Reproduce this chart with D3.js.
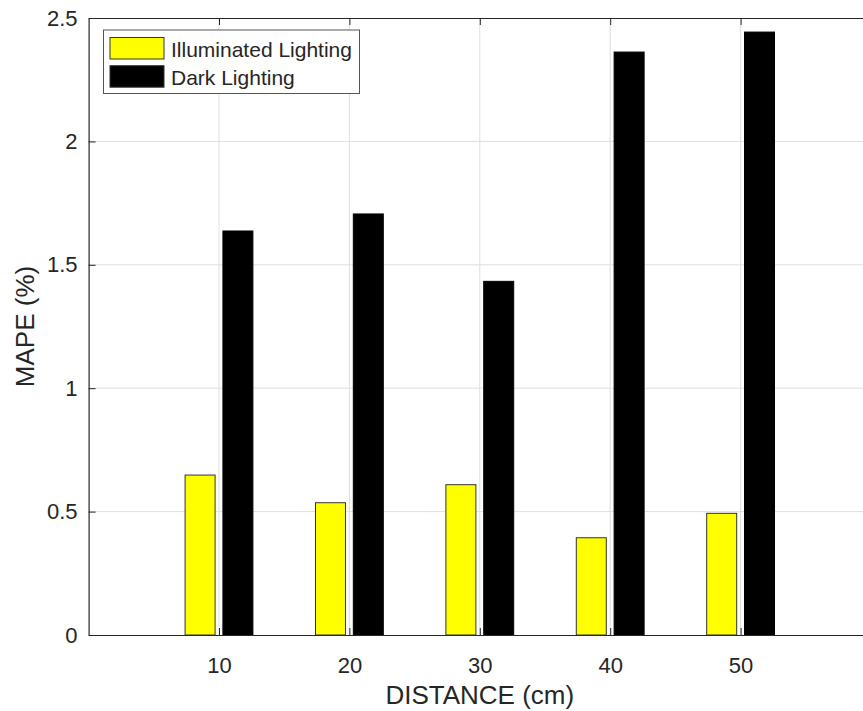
<!DOCTYPE html>
<html>
<head>
<meta charset="utf-8">
<script src="https://cdn.jsdelivr.net/npm/d3@7"></script>
<style>
  body { margin: 0; background: #fff; }
  text { font-family: "Liberation Sans", Arial, sans-serif; fill: #262626; }
</style>
</head>
<body>
<svg width="863" height="711"></svg>
<script>
// values
const distances = [10, 20, 30, 40, 50]
const illuminated = [0.648, 0.536, 0.609, 0.394, 0.493]
const dark = [1.637, 1.706, 1.433, 2.362, 2.443]
const yTicks = [0, 0.5, 1, 1.5, 2, 2.5]
const seriesNames = ["Illuminated Lighting", "Dark Lighting"]
const seriesColors = ["#ffff00", "#000000"]

const plotL = 88.6, plotR = 871, plotT = 18, plotB = 635

const svg = d3.select("svg")

const x = d3.scaleLinear().domain([0, 60]).range([plotL, plotR])
const y = d3.scaleLinear().domain([0, 2.5]).range([plotB, plotT])

const barW = 2.3   // in x units
const offs = [-1.45, 1.45]

// grid
svg.append("g").selectAll("line")
	.data(distances)
	.enter().append("line")
	.attr("x1", d => x(d)).attr("x2", d => x(d))
	.attr("y1", plotT).attr("y2", plotB)
	.style("stroke", "#dfdfdf").style("stroke-width", 1)
svg.append("g").selectAll("line")
	.data(yTicks.slice(1, -1))
	.enter().append("line")
	.attr("x1", plotL).attr("x2", plotR)
	.attr("y1", d => y(d)).attr("y2", d => y(d))
	.style("stroke", "#dfdfdf").style("stroke-width", 1)

// bars
const series = [illuminated, dark]
series.forEach((vals, s) => {
	svg.append("g").selectAll("rect")
		.data(vals)
		.enter().append("rect")
		.attr("x", (d, i) => x(distances[i] + offs[s] - barW / 2))
		.attr("width", x(barW) - x(0))
		.attr("y", d => y(d))
		.attr("height", d => y(0) - y(d))
		.style("fill", seriesColors[s])
		.style("stroke", s == 0 ? "#333" : "#000")
		.style("stroke-width", 1)
})

// axes
const xAxis = d3.axisBottom(x).tickValues(distances).tickSize(-7).tickSizeOuter(0).tickPadding(22)
const yAxis = d3.axisLeft(y).tickValues(yTicks).tickFormat(d3.format("")).tickSize(-7).tickSizeOuter(0).tickPadding(11)
const xTop = d3.axisTop(x).tickValues(distances).tickSize(-7).tickSizeOuter(0).tickFormat("")

const gx = svg.append("g").attr("transform", `translate(0,${plotB})`).call(xAxis)
const gy = svg.append("g").attr("transform", `translate(${plotL},0)`).call(yAxis)
const gt = svg.append("g").attr("transform", `translate(0,${plotT})`).call(xTop)
;[gx, gy, gt].forEach(g => {
	g.select(".domain").style("stroke", "#262626").style("stroke-width", 1.2)
	g.selectAll(".tick line").style("stroke", "#262626")
	g.selectAll("text").style("font-size", "22px").style("fill", "#262626")
		.style("font-family", '"Liberation Sans", Arial, sans-serif')
})

// axis titles
svg.append("text")
	.attr("x", x(30)).attr("y", 704)
	.attr("text-anchor", "middle")
	.style("font-size", "26px")
	.text("DISTANCE (cm)")
svg.append("text")
	.attr("transform", `translate(34,${(plotT + plotB) / 2}) rotate(-90)`)
	.attr("text-anchor", "middle")
	.style("font-size", "26px")
	.text("MAPE (%)")

// legend
const lg = svg.append("g")
lg.append("rect")
	.attr("x", 103.5).attr("y", 30).attr("width", 256).attr("height", 63.5)
	.style("fill", "#fff").style("stroke", "#555").style("stroke-width", 1)
seriesNames.forEach((name, i) => {
	lg.append("rect")
		.attr("x", 110).attr("y", 37.5 + i * 28.2).attr("width", 54).attr("height", 21.5)
		.style("fill", seriesColors[i]).style("stroke", "#333")
	lg.append("text")
		.attr("x", 171).attr("y", 57 + i * 27.5)
		.style("font-size", "21px")
		.text(name)
})
</script>
</body>
</html>
